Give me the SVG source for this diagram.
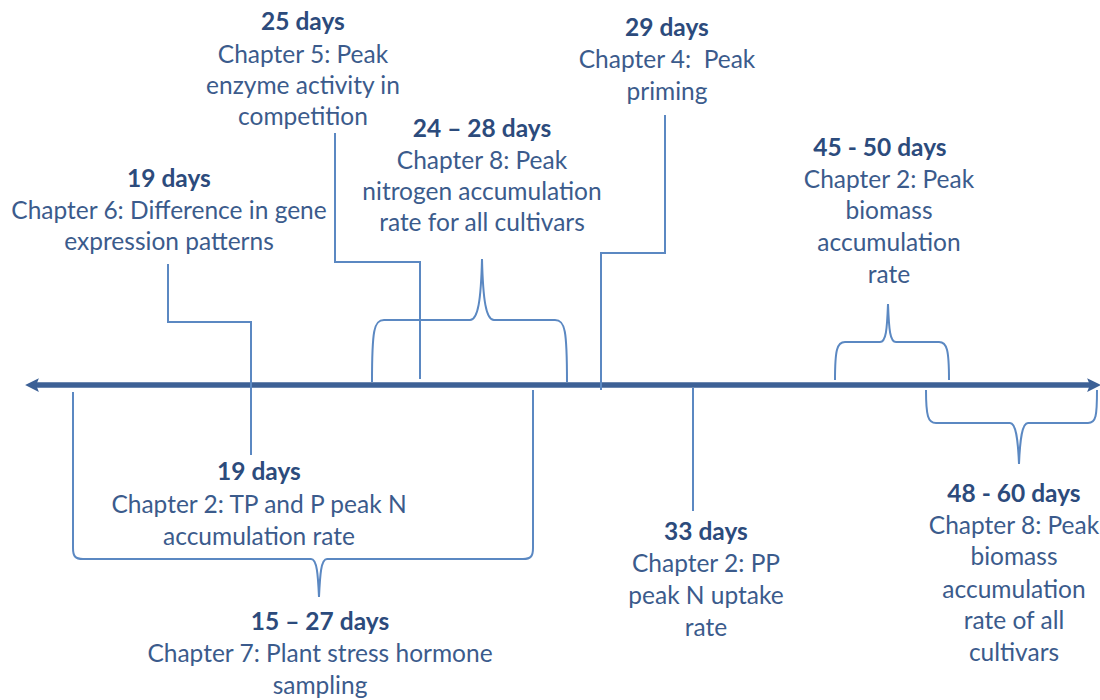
<svg xmlns="http://www.w3.org/2000/svg" width="1100" height="700" viewBox="0 0 1100 700">
<defs>
<style>
text{font-family:Lato,"Open Sans","Noto Sans",sans-serif;font-size:24.5px;fill:#3b5b8c;text-anchor:middle}
.b{font-weight:bold;fill:#2c4b7c}
.c{fill:none;stroke:#5b88c2;stroke-width:2}
.axis{stroke:#3d6196;stroke-width:5.5;fill:none}
</style>
<marker id="ah" viewBox="0 0 10 10" refX="5" refY="5" markerWidth="2.5" markerHeight="2.5" orient="auto-start-reverse" markerUnits="strokeWidth">
<path d="M0,0 L10,5 L0,10 L2,5 Z" fill="#3d6196"/>
</marker>
</defs>
<rect width="1100" height="700" fill="#fff"/>
<g id="connectors">
<path class="axis" d="M32,385 L1094,385" marker-start="url(#ah)" marker-end="url(#ah)"/>
<path class="c" d="M335,133 L335,262 L420,262 L420,379"/>
<path class="c" d="M665,115 L665,253 L601,253 L601,390"/>
<path class="c" d="M168,264 L168,322 L251,322 L251,455"/>
<path class="c" d="M693,388 L693,511"/>
<path class="c" d="M372,382 C372,330 374,320 384,320 L470,320 C478,320 481,300 482,259 C483,300 486,320 494,320 L555,320 C565,320 567,330 567,382"/>
<path class="c" d="M835,380 C835,350 837,342 845,342 L880,342 C886,342 887,330 888,304 C889,330 890,342 896,342 L939,342 C947,342 949,350 949,380"/>
<path class="c" d="M926,390 C926,416 928,423 936,423 L1010,423 C1016,423 1018,440 1019,464 C1020,440 1022,423 1028,423 L1088,423 C1096,423 1097,416 1097,390"/>
<path class="c" d="M73,392 L73,548 C73,556 75,559 83,559 L311,559 C317,559 318,575 319,597 C320,575 321,559 327,559 L523,559 C531,559 533,556 533,548 L533,390"/>
</g>
<g id="n25">
<text class="b" x="303" y="30">25 days</text>
<text x="303" y="63">Chapter 5: Peak</text>
<text x="303" y="94">enzyme activity in</text>
<text x="303" y="125">competition</text>
</g>
<g id="n29">
<text class="b" x="667" y="36">29 days</text>
<text x="667" y="68" xml:space="preserve">Chapter 4:  Peak</text>
<text x="667" y="100">priming</text>
</g>
<g id="n2428">
<text class="b" x="482" y="137">24 – 28 days</text>
<text x="482" y="169">Chapter 8: Peak</text>
<text x="482" y="200">nitrogen accumulation</text>
<text x="482" y="231">rate for all cultivars</text>
</g>
<g id="n19a">
<text class="b" x="169" y="187">19 days</text>
<text x="169" y="219">Chapter 6: Difference in gene</text>
<text x="169" y="250">expression patterns</text>
</g>
<g id="n4550">
<text class="b" x="880" y="156">45 - 50 days</text>
<text x="889" y="188">Chapter 2: Peak</text>
<text x="889" y="219">biomass</text>
<text x="889" y="251">accumulation</text>
<text x="889" y="283">rate</text>
</g>
<g id="n19b">
<text class="b" x="259" y="480">19 days</text>
<text x="259" y="513">Chapter 2: TP and P peak N</text>
<text x="259" y="545">accumulation rate</text>
</g>
<g id="n1527">
<text class="b" x="320" y="630">15 – 27 days</text>
<text x="320" y="662">Chapter 7: Plant stress hormone</text>
<text x="320" y="694">sampling</text>
</g>
<g id="n33">
<text class="b" x="706" y="540">33 days</text>
<text x="706" y="572">Chapter 2: PP</text>
<text x="706" y="604">peak N uptake</text>
<text x="706" y="636">rate</text>
</g>
<g id="n4860">
<text class="b" x="1014" y="502">48 - 60 days</text>
<text x="1014" y="534">Chapter 8: Peak</text>
<text x="1014" y="565">biomass</text>
<text x="1014" y="598">accumulation</text>
<text x="1014" y="629">rate of all</text>
<text x="1014" y="661">cultivars</text>
</g>
</svg>
